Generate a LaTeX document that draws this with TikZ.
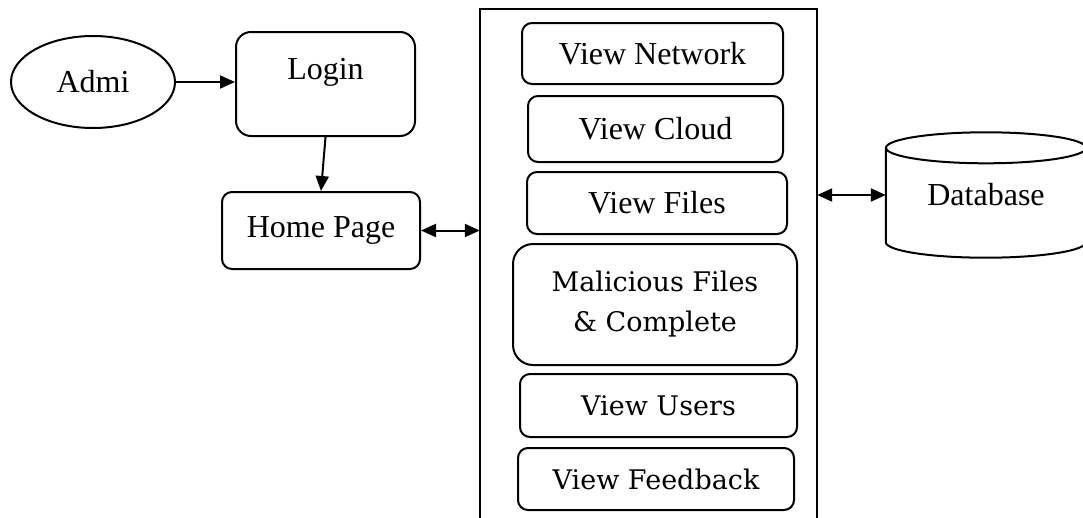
\documentclass[tikz,border=0pt]{standalone}
\usepackage{fontspec}
\setmainfont{Liberation Serif}
\newfontfamily\camfont{DejaVu Serif}
\usetikzlibrary{arrows.meta,shapes.geometric}
\tikzset{
  ln/.style={line width=2pt},
  tfont/.style={font=\fontsize{32}{38}\selectfont},
  cfont/.style={font=\camfont\fontsize{27}{40}\selectfont},
  rbox/.style={ln,draw,rectangle,rounded corners=10pt,inner sep=0pt,align=center},
  arr/.style={ln,-{Triangle[length=15pt,width=13pt]}},
  darr/.style={ln,{Triangle[length=15pt,width=13pt]}-{Triangle[length=15pt,width=13pt]}}
}
\begin{document}
\begin{tikzpicture}[x=1pt,y=-1pt]
\useasboundingbox (0,0) rectangle (1083,517);
\fill[white] (0,0) rectangle (1083,517);
% left part
\node[ln,draw,ellipse,inner sep=0pt,minimum width=164pt,minimum height=92pt,tfont] (admi) at (93,82) {Admi};
\node[rbox,rounded corners=15pt,tfont,minimum width=179pt,text height=47pt,text depth=57pt,anchor=north] (login) at (325.5,31) {Login};
\node[rbox,tfont,minimum width=198pt,minimum height=77pt] (home) at (321,230.5) {Home Page};
% main panel
\node[inner sep=0pt,minimum width=337pt,minimum height=531pt] (main) at (648.5,274.5) {};
\draw[ln] (main.south west) -- (main.north west) -- (main.north east) -- (main.south east);
\node[rbox,tfont,minimum width=261pt,minimum height=61pt] (vn) at (652.5,53.5) {View Network};
\node[rbox,tfont,minimum width=255pt,minimum height=66pt] (vc) at (655.5,129) {View Cloud};
\node[rbox,tfont,minimum width=260pt,minimum height=62pt] (vf) at (657,203) {View Files};
\node[rbox,rounded corners=20pt,cfont,minimum width=284pt,minimum height=121pt] (mal) at (655,304.5) {Malicious Files\\\& Complete};
\node[rbox,cfont,minimum width=277pt,minimum height=63pt] (vu) at (658.5,405.5) {View Users};
\node[rbox,cfont,minimum width=276pt,minimum height=62pt] (vfb) at (656,479) {View Feedback};
% database
\node[inner sep=0pt,minimum width=200pt,minimum height=94pt,tfont] (db) at (986,195) {Database};
\draw[ln] (db.north) ellipse[x radius=100pt,y radius=15.5pt];
\draw[ln] (db.north west) -- (db.south west) arc[start angle=180,end angle=360,x radius=100pt,y radius=15.5pt] -- (db.north east);
% connectors
\draw[arr] (admi.east) -- (admi.east -| login.west);
\draw[arr] (login.south) -- (home.north);
\draw[darr] (home.east) -- (home.east -| main.west);
\draw[darr] (db.west -| main.east) -- (db.west);
\end{tikzpicture}
\end{document}
